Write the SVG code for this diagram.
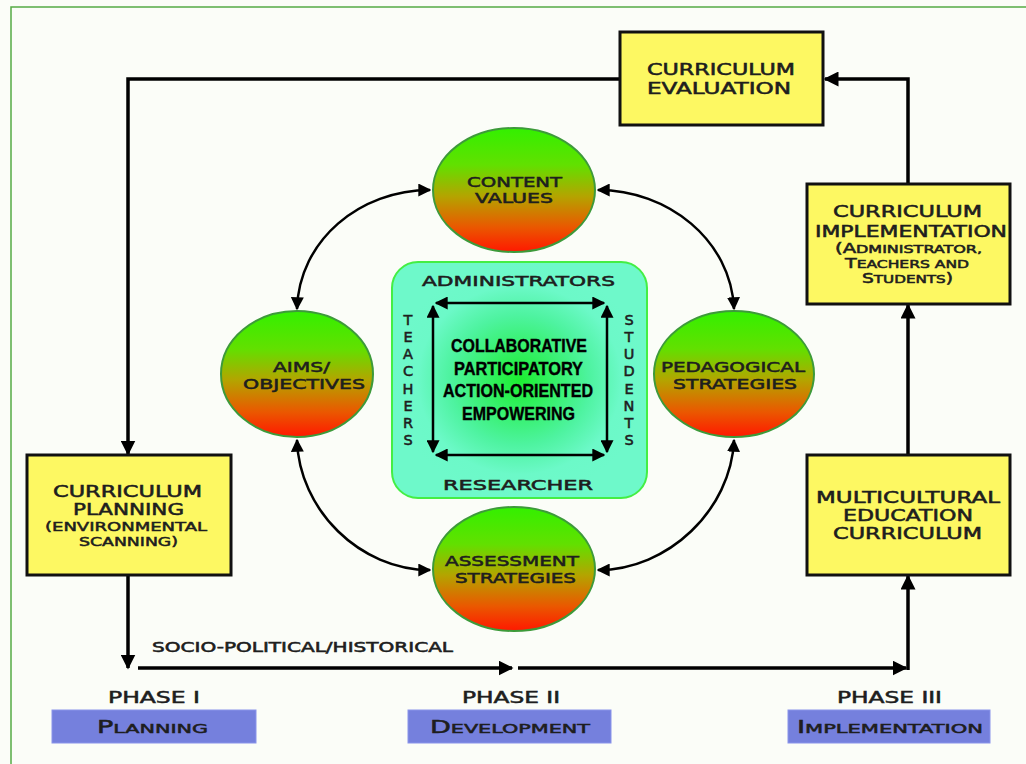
<svg xmlns="http://www.w3.org/2000/svg" width="1026" height="764" viewBox="0 0 1026 764">
<defs>
<style>
.bg{fill:#fbfdf8}
.frame{fill:none;stroke:#55aa44;stroke-width:1.5}
.ybox{fill:#fdf862;stroke:#111;stroke-width:3}
.bbox{fill:#7580dd;stroke:#8a94ea;stroke-width:1}
.ell{fill:url(#eg);stroke:#3d9a3a;stroke-width:2}
.ln{fill:none;stroke:#000;stroke-width:3.5}
.cv{fill:none;stroke:#000;stroke-width:2.5}
.w{font-family:"DejaVu Sans","Liberation Sans",sans-serif;font-weight:normal;fill:#1e1e1e;stroke:#1e1e1e;stroke-width:0.55}
.n{font-family:"Liberation Sans",Arial,sans-serif;font-weight:bold;fill:#000;stroke:#000;stroke-width:0.4}
</style>
<marker id="ah" viewBox="0 0 10 10" refX="9" refY="5" markerWidth="15" markerHeight="15" markerUnits="userSpaceOnUse" orient="auto-start-reverse"><path d="M0,0 L10,5 L0,10 z" fill="#000"/></marker>
<marker id="as" viewBox="0 0 10 10" refX="9" refY="5" markerWidth="13" markerHeight="13" markerUnits="userSpaceOnUse" orient="auto-start-reverse"><path d="M0,0 L10,5 L0,10 z" fill="#000"/></marker>
<linearGradient id="eg" x1="0" y1="0" x2="0" y2="1">
<stop offset="0" stop-color="#33f000"/>
<stop offset="0.3" stop-color="#62e000"/>
<stop offset="0.55" stop-color="#b4a400"/>
<stop offset="0.8" stop-color="#ea5800"/>
<stop offset="1" stop-color="#ff1800"/>
</linearGradient>
<radialGradient id="cg" cx="0.5" cy="0.5" r="0.5">
<stop offset="0" stop-color="#1cee30"/>
<stop offset="0.55" stop-color="#4ef3a0"/>
<stop offset="0.8" stop-color="#6cf9c8"/>
<stop offset="1" stop-color="#6ef9ca"/>
</radialGradient>
</defs>
<rect class="bg" x="0" y="0" width="1026" height="764"/>
<rect class="frame" x="11" y="7" width="1040" height="790"/>

<g id="connectors">
<path class="ln" d="M619,79 L128,79 L128,454" marker-end="url(#ah)"/>
<path class="ln" d="M908,184 L908,79 L825,79" marker-end="url(#ah)"/>
<path class="ln" d="M908,455 L908,305" marker-end="url(#ah)"/>
<path class="ln" d="M128,575 L128,668" marker-end="url(#ah)"/>
<path class="ln" d="M138,668 L512,668" marker-end="url(#ah)"/>
<path class="ln" d="M518,668 L906,668" marker-end="url(#ah)"/>
<path class="ln" d="M908,670 L908,576" marker-end="url(#ah)"/>
<path class="cv" d="M297,309 C299,240 360,190 430,190" marker-start="url(#as)" marker-end="url(#as)"/>
<path class="cv" d="M598,190 C668,190 731,240 734,309" marker-start="url(#as)" marker-end="url(#as)"/>
<path class="cv" d="M297,440 C299,510 360,570 430,570" marker-start="url(#as)" marker-end="url(#as)"/>
<path class="cv" d="M734,440 C731,510 668,570 598,570" marker-start="url(#as)" marker-end="url(#as)"/>
</g>

<g id="evaluation">
<rect class="ybox" x="620" y="32" width="203" height="93"/>
<text class="w" font-size="15.5" x="647" y="75" textLength="148" lengthAdjust="spacingAndGlyphs">CURRICULUM</text>
<text class="w" font-size="15.5" x="647" y="94" textLength="144" lengthAdjust="spacingAndGlyphs">EVALUATION</text>
</g>

<g id="implementation">
<rect class="ybox" x="807" y="184" width="203" height="120"/>
<text class="w" font-size="15.5" x="833" y="217" textLength="149" lengthAdjust="spacingAndGlyphs">CURRICULUM</text>
<text class="w" font-size="15.5" x="815" y="237" textLength="192" lengthAdjust="spacingAndGlyphs">IMPLEMENTATION</text>
<text class="w" font-size="11" x="835" y="253" textLength="147" lengthAdjust="spacingAndGlyphs"><tspan font-size="13.5">(A</tspan>DMINISTRATOR,</text>
<text class="w" font-size="11" x="845" y="268" textLength="124" lengthAdjust="spacingAndGlyphs"><tspan font-size="13.5">T</tspan>EACHERS AND</text>
<text class="w" font-size="11" x="862" y="283" textLength="91" lengthAdjust="spacingAndGlyphs"><tspan font-size="13.5">S</tspan>TUDENTS<tspan font-size="13.5">)</tspan></text>
</g>

<g id="multicultural">
<rect class="ybox" x="807" y="455" width="203" height="120"/>
<text class="w" font-size="15.5" x="816" y="503" textLength="184" lengthAdjust="spacingAndGlyphs">MULTICULTURAL</text>
<text class="w" font-size="15.5" x="843" y="521" textLength="130" lengthAdjust="spacingAndGlyphs">EDUCATION</text>
<text class="w" font-size="15.5" x="833" y="539" textLength="149" lengthAdjust="spacingAndGlyphs">CURRICULUM</text>
</g>

<g id="planning">
<rect class="ybox" x="27" y="455" width="204" height="120"/>
<text class="w" font-size="15.5" x="53" y="497" textLength="149" lengthAdjust="spacingAndGlyphs">CURRICULUM</text>
<text class="w" font-size="15.5" x="73" y="515" textLength="111" lengthAdjust="spacingAndGlyphs">PLANNING</text>
<text class="w" font-size="13" x="45" y="531" textLength="162" lengthAdjust="spacingAndGlyphs">(ENVIRONMENTAL</text>
<text class="w" font-size="13" x="79" y="546" textLength="99" lengthAdjust="spacingAndGlyphs">SCANNING)</text>
</g>

<g id="content-values">
<ellipse class="ell" cx="514" cy="190" rx="81" ry="62"/>
<text class="w" font-size="14.5" x="467" y="187" textLength="95" lengthAdjust="spacingAndGlyphs">CONTENT</text>
<text class="w" font-size="14.5" x="475" y="203" textLength="78" lengthAdjust="spacingAndGlyphs">VALUES</text>
</g>

<g id="aims">
<ellipse class="ell" cx="297" cy="374" rx="76" ry="63"/>
<text class="w" font-size="14.5" x="273" y="372" textLength="57" lengthAdjust="spacingAndGlyphs">AIMS/</text>
<text class="w" font-size="14.5" x="243" y="389" textLength="122" lengthAdjust="spacingAndGlyphs">OBJECTIVES</text>
</g>

<g id="pedagogical">
<ellipse class="ell" cx="734" cy="374" rx="80" ry="63"/>
<text class="w" font-size="14.5" x="661" y="372" textLength="144" lengthAdjust="spacingAndGlyphs">PEDAGOGICAL</text>
<text class="w" font-size="14.5" x="673" y="389" textLength="124" lengthAdjust="spacingAndGlyphs">STRATEGIES</text>
</g>

<g id="assessment">
<ellipse class="ell" cx="514" cy="569" rx="81" ry="62"/>
<text class="w" font-size="14.5" x="445" y="566" textLength="134" lengthAdjust="spacingAndGlyphs">ASSESSMENT</text>
<text class="w" font-size="14.5" x="455" y="583" textLength="121" lengthAdjust="spacingAndGlyphs">STRATEGIES</text>
</g>

<g id="center">
<rect x="392" y="262" width="255" height="236" rx="26" fill="url(#cg)" stroke="#44ee44" stroke-width="2"/>
<text class="w" font-size="14.5" x="422" y="286" textLength="193" lengthAdjust="spacingAndGlyphs">ADMINISTRATORS</text>
<text class="w" font-size="14.5" x="443" y="490" textLength="150" lengthAdjust="spacingAndGlyphs">RESEARCHER</text>
<text class="w" font-size="14.5" text-anchor="middle"><tspan x="408" y="325">T</tspan><tspan x="408" y="342">E</tspan><tspan x="408" y="359">A</tspan><tspan x="408" y="376">C</tspan><tspan x="408" y="394">H</tspan><tspan x="408" y="411">E</tspan><tspan x="408" y="428">R</tspan><tspan x="408" y="445">S</tspan></text>
<text class="w" font-size="14.5" text-anchor="middle"><tspan x="629" y="325">S</tspan><tspan x="629" y="342">T</tspan><tspan x="629" y="359">U</tspan><tspan x="629" y="376">D</tspan><tspan x="629" y="394">E</tspan><tspan x="629" y="411">N</tspan><tspan x="629" y="428">T</tspan><tspan x="629" y="445">S</tspan></text>
<path class="cv" d="M436,303 L604,303" marker-start="url(#as)" marker-end="url(#as)"/>
<path class="cv" d="M436,455 L604,455" marker-start="url(#as)" marker-end="url(#as)"/>
<path class="cv" d="M433,306 L433,452" marker-start="url(#as)" marker-end="url(#as)"/>
<path class="cv" d="M607,306 L607,452" marker-start="url(#as)" marker-end="url(#as)"/>
<text class="n" font-size="19" x="451" y="352" textLength="136" lengthAdjust="spacingAndGlyphs">COLLABORATIVE</text>
<text class="n" font-size="19" x="454" y="375" textLength="129" lengthAdjust="spacingAndGlyphs">PARTICIPATORY</text>
<text class="n" font-size="19" x="443" y="397" textLength="150" lengthAdjust="spacingAndGlyphs">ACTION-ORIENTED</text>
<text class="n" font-size="19" x="462" y="420" textLength="113" lengthAdjust="spacingAndGlyphs">EMPOWERING</text>
</g>

<g id="labels">
<text class="w" font-size="13.5" x="152" y="652" textLength="301" lengthAdjust="spacingAndGlyphs">SOCIO-POLITICAL/HISTORICAL</text>
<text class="w" font-size="16" x="108" y="703" textLength="92" lengthAdjust="spacingAndGlyphs" stroke-width="0.9">PHASE I</text>
<text class="w" font-size="16" x="462" y="703" textLength="98" lengthAdjust="spacingAndGlyphs" stroke-width="0.9">PHASE II</text>
<text class="w" font-size="16" x="837" y="703" textLength="105" lengthAdjust="spacingAndGlyphs" stroke-width="0.9">PHASE III</text>
</g>

<g id="phase1">
<rect class="bbox" x="52" y="710" width="204" height="33"/>
<text class="w" font-size="13" x="97" y="733" textLength="111" lengthAdjust="spacingAndGlyphs"><tspan font-size="17">P</tspan>LANNING</text>
</g>
<g id="phase2">
<rect class="bbox" x="408" y="710" width="203" height="33"/>
<text class="w" font-size="13" x="430" y="733" textLength="160" lengthAdjust="spacingAndGlyphs"><tspan font-size="17">D</tspan>EVELOPMENT</text>
</g>
<g id="phase3">
<rect class="bbox" x="788" y="710" width="202" height="33"/>
<text class="w" font-size="13" x="797" y="733" textLength="186" lengthAdjust="spacingAndGlyphs"><tspan font-size="17">I</tspan>MPLEMENTATION</text>
</g>
</svg>
